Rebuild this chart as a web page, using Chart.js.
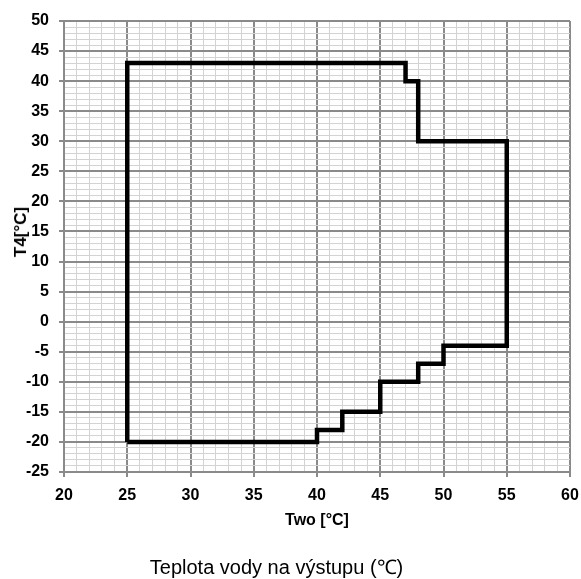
<!DOCTYPE html>
<html>
<head>
<meta charset="utf-8">
<script src="https://cdn.jsdelivr.net/npm/chart.js@4/dist/chart.umd.min.js"></script>
<style>
  html, body { margin: 0; padding: 0; background: #fff; }
  #wrap { position: relative; width: 581px; height: 579px; }
  #c { position: absolute; left: 0; top: 0; }
  #ytitle {
    position: absolute; left: 21px; top: 232px;
    transform: translate(-50%, -50%) rotate(-90deg);
    font: bold 17px "Liberation Sans", Arial, sans-serif; color: #000; white-space: nowrap;
  }
  #caption {
    position: absolute; left: 0; width: 553px; top: 557px; text-align: center;
    font: 20px/20px "Liberation Sans", Arial, sans-serif; color: #000; white-space: nowrap;
  }
</style>
</head>
<body>
<div id="wrap">
  <canvas id="c" width="581" height="579"></canvas>
  <div id="ytitle">T4[°C]</div>
  <div id="caption">Teplota vody na výstupu (℃)</div>
</div>
<script>
// Operating envelope outline (Two [°C], T4 [°C])
const envelopeTwo = [25, 25, 47, 47, 48, 48, 55, 55, 50, 50, 48, 48, 45, 45, 42, 42, 40, 40, 25];
const envelopeT4  = [-20, 43, 43, 40, 40, 30, 30, -4, -4, -7, -7, -10, -10, -15, -15, -18, -18, -20, -20];

const xAxisMin = 20, xAxisMax = 60;
const yAxisMin = -25, yAxisMax = 50;
const majorStep = 5, minorStep = 1;
const xTitle = 'Two [°C]';

const points = envelopeTwo.map((x, i) => ({ x: x, y: envelopeT4[i] }));

const MAJOR = '#8a8a8a', MINOR = '#d3d3d3';
const isMajor = v => Math.abs(Math.round(v) % majorStep) === 0;
const tickFont = { family: '"Liberation Sans", Arial, sans-serif', size: 16, weight: 'bold' };

function gridOpts() {
  return {
    color: c => isMajor(c.tick.value) ? MAJOR : MINOR,
    lineWidth: c => isMajor(c.tick.value) ? 2 : 1,
    tickColor: c => isMajor(c.tick.value) ? MAJOR : 'rgba(0,0,0,0)',
    tickWidth: 2,
    tickLength: 5,
    drawTicks: true
  };
}

new Chart(document.getElementById('c'), {
  type: 'scatter',
  data: {
    datasets: [{
      data: points,
      showLine: true,
      borderColor: '#000',
      borderWidth: 4.5,
      borderJoinStyle: 'miter',
      pointRadius: 0,
      pointHoverRadius: 0,
      fill: false,
      tension: 0
    }]
  },
  options: {
    responsive: false,
    animation: false,
    layout: { padding: { left: 0, right: 0, top: 21, bottom: 0 } },
    plugins: { legend: { display: false }, tooltip: { enabled: false } },
    scales: {
      x: {
        type: 'linear',
        min: xAxisMin, max: xAxisMax,
        grid: gridOpts(),
        border: { color: MAJOR, width: 2 },
        ticks: {
          stepSize: minorStep, autoSkip: false, maxRotation: 0,
          padding: 9, color: '#000', font: tickFont,
          callback: v => isMajor(v) ? String(v) : ''
        },
        title: {
          display: true, text: xTitle, color: '#000',
          font: { family: '"Liberation Sans", Arial, sans-serif', size: 16, weight: 'bold' },
          padding: { top: 0, bottom: 49 }
        },
        afterFit: s => { s.height = 107; s.paddingRight = 11; s.paddingLeft = 9; }
      },
      y: {
        type: 'linear',
        min: yAxisMin, max: yAxisMax,
        grid: gridOpts(),
        border: { color: MAJOR, width: 2 },
        ticks: {
          stepSize: minorStep, autoSkip: false,
          padding: 10, color: '#000', font: tickFont,
          callback: v => isMajor(v) ? String(v) : ''
        },
        afterFit: s => { s.width = 64; }
      }
    }
  }
});
</script>
</body>
</html>
